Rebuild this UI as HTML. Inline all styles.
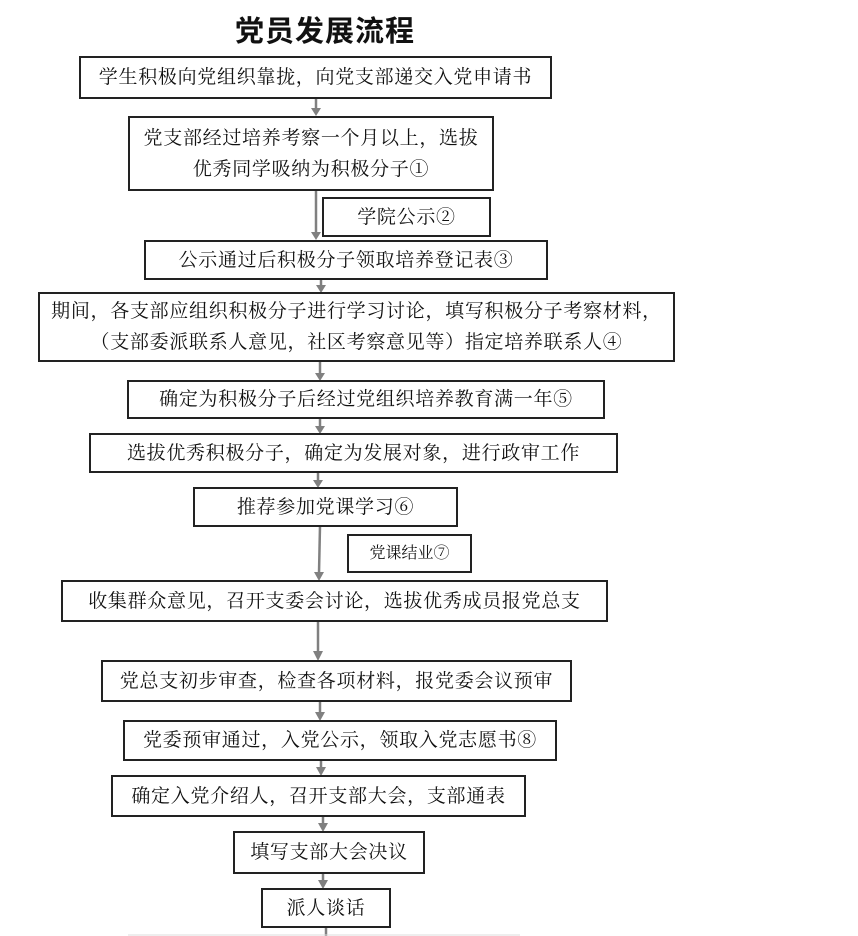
<!DOCTYPE html>
<html><head><meta charset="utf-8"><style>
html,body{margin:0;padding:0;background:#fff;}
body{width:858px;height:936px;position:relative;overflow:hidden;font-family:"Liberation Serif","Noto Serif CJK SC",serif;color:#111;}
.b{position:absolute;box-sizing:border-box;border:2px solid #222;background:#fff;display:flex;align-items:center;justify-content:center;text-align:center;font-size:19px;letter-spacing:0.7px;white-space:nowrap;line-height:31px;}
.t{position:absolute;left:0;width:650px;top:8px;text-align:center;font-family:"Noto Sans CJK SC",sans-serif;font-weight:bold;font-size:29px;letter-spacing:1px;}
svg{position:absolute;left:0;top:0;}
</style></head><body>
<svg width="858" height="936">
<g stroke="#808080" stroke-width="2.5" fill="#808080">
<line x1="316" y1="98" x2="316" y2="110"/><path d="M311,108 L321,108 L316,116Z" stroke="none"/>
<line x1="316" y1="190" x2="316" y2="234"/><path d="M311,232 L321,232 L316,240Z" stroke="none"/>
<line x1="321" y1="279" x2="321" y2="286"/><path d="M316,285 L326,285 L321,293Z" stroke="none"/>
<line x1="320" y1="361" x2="320" y2="374"/><path d="M315,373 L325,373 L320,381Z" stroke="none"/>
<line x1="320" y1="418" x2="320" y2="427"/><path d="M315,426 L325,426 L320,434Z" stroke="none"/>
<line x1="318" y1="472" x2="318" y2="481"/><path d="M313,480 L323,480 L318,488Z" stroke="none"/>
<line x1="320" y1="526" x2="319" y2="573"/><path d="M314,572 L324,572 L319,581Z" stroke="none"/>
<line x1="318" y1="621" x2="318" y2="652"/><path d="M313,651 L323,651 L318,661Z" stroke="none"/>
<line x1="320" y1="701" x2="320" y2="713"/><path d="M315,712 L325,712 L320,721Z" stroke="none"/>
<line x1="321" y1="760" x2="321" y2="768"/><path d="M316,767 L326,767 L321,776Z" stroke="none"/>
<line x1="323" y1="816" x2="323" y2="824"/><path d="M318,823 L328,823 L323,832Z" stroke="none"/>
<line x1="323" y1="873" x2="323" y2="881"/><path d="M318,880 L328,880 L323,889Z" stroke="none"/>
<line x1="326" y1="927" x2="326" y2="936"/>
</g>
<line x1="128" y1="935" x2="520" y2="935" stroke="#ddd" stroke-width="1"/>
</svg>
<div class="t">党员发展流程</div>
<div class="b" style="left:79px;top:56px;width:473px;height:43px;">学生积极向党组织靠拢，向党支部递交入党申请书</div>
<div class="b" style="left:128px;top:116px;width:366px;height:75px;">党支部经过培养考察一个月以上，选拔<br>优秀同学吸纳为积极分子①</div>
<div class="b" style="left:322px;top:197px;width:169px;height:40px;">学院公示②</div>
<div class="b" style="left:144px;top:240px;width:404px;height:40px;">公示通过后积极分子领取培养登记表③</div>
<div class="b" style="left:38px;top:292px;width:637px;height:70px;">期间，各支部应组织积极分子进行学习讨论，填写积极分子考察材料，<br>（支部委派联系人意见，社区考察意见等）指定培养联系人④</div>
<div class="b" style="left:127px;top:380px;width:478px;height:39px;">确定为积极分子后经过党组织培养教育满一年⑤</div>
<div class="b" style="left:89px;top:433px;width:529px;height:40px;">选拔优秀积极分子，确定为发展对象，进行政审工作</div>
<div class="b" style="left:193px;top:487px;width:265px;height:40px;">推荐参加党课学习⑥</div>
<div class="b" style="left:347px;top:534px;width:125px;height:39px;font-size:16px;letter-spacing:0;">党课结业⑦</div>
<div class="b" style="left:61px;top:580px;width:547px;height:42px;">收集群众意见，召开支委会讨论，选拔优秀成员报党总支</div>
<div class="b" style="left:101px;top:660px;width:471px;height:42px;">党总支初步审查，检查各项材料，报党委会议预审</div>
<div class="b" style="left:123px;top:720px;width:434px;height:41px;">党委预审通过，入党公示，领取入党志愿书⑧</div>
<div class="b" style="left:111px;top:775px;width:415px;height:42px;">确定入党介绍人，召开支部大会，支部通表</div>
<div class="b" style="left:233px;top:831px;width:192px;height:43px;">填写支部大会决议</div>
<div class="b" style="left:261px;top:888px;width:130px;height:40px;">派人谈话</div>
</body></html>
